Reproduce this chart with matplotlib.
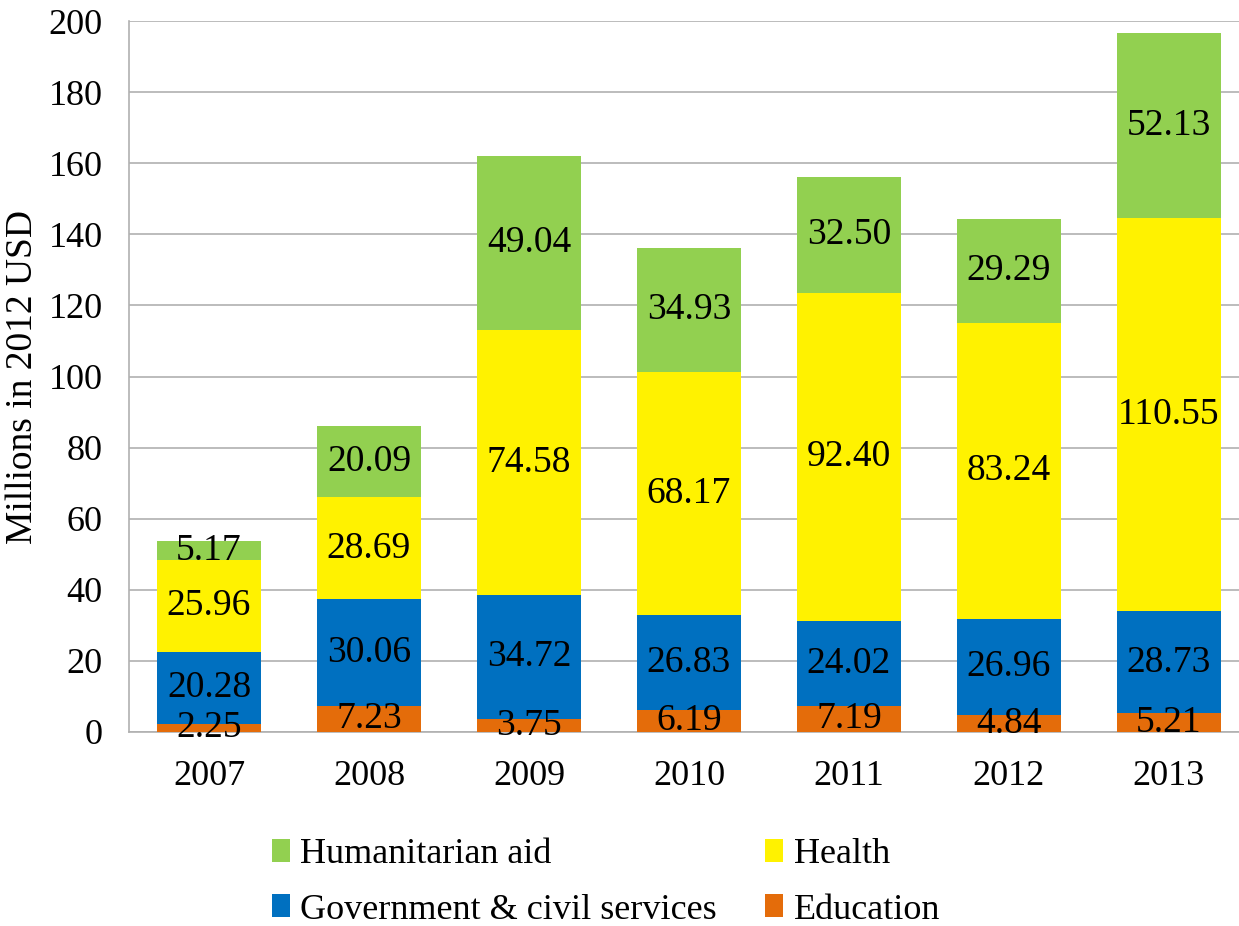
import numpy as np
import matplotlib.pyplot as plt

plt.rcParams['font.family'] = 'Liberation Serif'

years = ['2007', '2008', '2009', '2010', '2011', '2012', '2013']
education = [2.25, 7.23, 3.75, 6.19, 7.19, 4.84, 5.21]
government = [20.28, 30.06, 34.72, 26.83, 24.02, 26.96, 28.73]
health = [25.96, 28.69, 74.58, 68.17, 92.40, 83.24, 110.55]
humanitarian = [5.17, 20.09, 49.04, 34.93, 32.50, 29.29, 52.13]

series = [
    ('Education', education, '#E46C0A'),
    ('Government & civil services', government, '#0070C0'),
    ('Health', health, '#FFF200'),
    ('Humanitarian aid', humanitarian, '#92D050'),
]

fig = plt.figure(figsize=(12.39, 9.26), dpi=100)
ax = fig.add_axes([129 / 1239, 1 - 732 / 926, 1120 / 1239, 711 / 926])

x = np.arange(len(years))
bottom = np.zeros(len(years))
bars = {}
for name, vals, col in series:
    vals = np.array(vals)
    b = ax.bar(x, vals, 0.645, bottom=bottom, color=col, label=name, zorder=3)
    bars[name] = b
    for xi, v, bt in zip(x, vals, bottom):
        ax.text(xi, bt + v / 2, '%.2f' % v, ha='center', va='center',
                fontsize=27, zorder=4)
    bottom = bottom + vals

ax.set_xlim(-0.5, len(years) - 0.5)
ax.set_ylim(0, 200)
ax.set_yticks(range(0, 201, 20))
ax.set_xticks(x)
ax.set_xticklabels(years)
ax.tick_params(axis='both', length=0, labelsize=26)
ax.tick_params(axis='x', pad=20)
ax.tick_params(axis='y', pad=19)
ax.yaxis.grid(True, color='#b0b0b0', linewidth=1.2, zorder=0)
for s in ['top', 'right']:
    ax.spines[s].set_visible(False)
for s in ['left', 'bottom']:
    ax.spines[s].set_color('#b0b0b0')
    ax.spines[s].set_linewidth(1.2)
ax.set_ylabel('Millions in 2012 USD', fontsize=27, labelpad=6)

handles = [bars['Humanitarian aid'], bars['Government & civil services'],
           bars['Health'], bars['Education']]
labels = ['Humanitarian aid', 'Government & civil services', 'Health', 'Education']
fig.legend(handles, labels, ncol=2, loc='center', bbox_to_anchor=(0.489, 0.047),
           frameon=False, fontsize=26, handlelength=0.5, handleheight=0.6,
           handletextpad=0.28, columnspacing=1.35, labelspacing=0.62)

fig.savefig('out.png', dpi=100)
